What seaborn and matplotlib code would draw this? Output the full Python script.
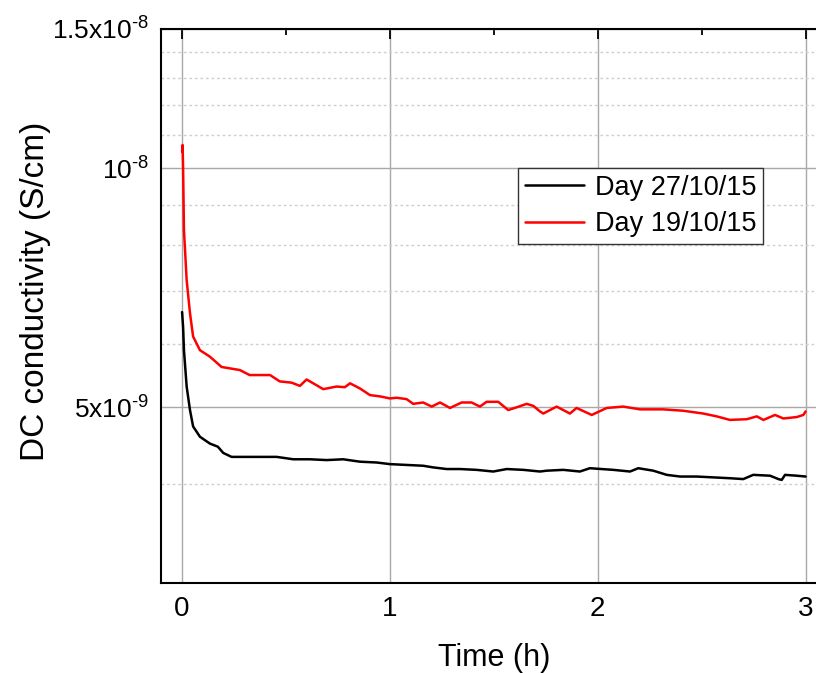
import numpy as np
import pandas as pd
import matplotlib
matplotlib.use("Agg")
import matplotlib.pyplot as plt
import matplotlib.ticker as mticker
import seaborn as sns

# ---- data (time in h, conductivity in 1e-9 S/cm) ----
t_black = [0.0, 0.005, 0.009, 0.022, 0.038, 0.053, 0.086, 0.134, 0.172, 0.198, 0.238,
           0.30, 0.374, 0.455, 0.535, 0.615, 0.695, 0.775, 0.856, 0.936, 1.0,
           1.08, 1.16, 1.208, 1.273, 1.337, 1.417, 1.497, 1.562, 1.642, 1.722,
           1.754, 1.834, 1.914, 1.962, 2.075, 2.155, 2.195, 2.267, 2.332, 2.396,
           2.476, 2.556, 2.636, 2.70, 2.748, 2.829, 2.869, 2.885, 2.901, 2.957, 3.0]
s_black = [6.59, 6.30, 5.90, 5.31, 4.96, 4.73, 4.59, 4.50, 4.46, 4.38, 4.33,
           4.33, 4.33, 4.33, 4.30, 4.30, 4.29, 4.30, 4.27, 4.26, 4.24,
           4.23, 4.22, 4.20, 4.18, 4.18, 4.17, 4.15, 4.18, 4.17, 4.15,
           4.16, 4.17, 4.15, 4.19, 4.17, 4.15, 4.19, 4.16, 4.11, 4.09,
           4.09, 4.08, 4.07, 4.06, 4.11, 4.10, 4.06, 4.05, 4.11, 4.10, 4.09]

t_red = [0.0, 0.0024, 0.005, 0.009, 0.022, 0.038, 0.053, 0.086, 0.134, 0.190, 0.278,
         0.325, 0.374, 0.423, 0.470, 0.527, 0.567, 0.599, 0.631, 0.679, 0.743,
         0.783, 0.808, 0.856, 0.904, 0.953, 1.0, 1.032, 1.080, 1.112, 1.160,
         1.201, 1.241, 1.289, 1.345, 1.393, 1.433, 1.465, 1.521, 1.569, 1.610,
         1.658, 1.690, 1.722, 1.738, 1.802, 1.866, 1.898, 1.971, 2.043, 2.123,
         2.203, 2.315, 2.411, 2.508, 2.572, 2.636, 2.717, 2.765, 2.797, 2.853,
         2.893, 2.957, 2.989, 3.0]
s_red = [10.5, 10.70, 9.95, 8.36, 7.23, 6.57, 6.14, 5.90, 5.79, 5.62, 5.57,
         5.49, 5.49, 5.49, 5.39, 5.37, 5.32, 5.42, 5.36, 5.27, 5.31,
         5.30, 5.36, 5.28, 5.18, 5.16, 5.13, 5.14, 5.12, 5.05, 5.07,
         5.01, 5.07, 4.99, 5.07, 5.07, 5.01, 5.08, 5.08, 4.96, 5.00,
         5.05, 5.02, 4.94, 4.91, 5.01, 4.91, 4.99, 4.89, 4.99, 5.01,
         4.97, 4.97, 4.95, 4.91, 4.87, 4.82, 4.83, 4.87, 4.82, 4.89,
         4.84, 4.86, 4.89, 4.94]

labels = ["Day 27/10/15", "Day 19/10/15"]
colors = ["#000000", "#ff0000"]

x_ticks = [0, 1, 2, 3]
y_major = [5e-9, 1e-8, 1.5e-8]
y_major_labels = [r"$\mathregular{5x10^{\text{-}9}}$", r"$\mathregular{10^{\text{-}8}}$",
                  r"$\mathregular{1.5x10^{\text{-}8}}$"]
y_minor = [3e-9, 4e-9, 6e-9, 7e-9, 8e-9, 9e-9, 1.1e-8, 1.2e-8, 1.3e-8, 1.4e-8]

df = pd.concat([
    pd.DataFrame({"t": t_black, "s": np.array(s_black) * 1e-9, "series": labels[0]}),
    pd.DataFrame({"t": t_red, "s": np.array(s_red) * 1e-9, "series": labels[1]}),
])

sns.set_style("white")
plt.rcParams["font.family"] = ["Liberation Sans", "DejaVu Sans"]
plt.rcParams["mathtext.fontset"] = "custom"
plt.rcParams["mathtext.rm"] = "Liberation Sans"
plt.rcParams["text.color"] = "black"
plt.rcParams["axes.labelcolor"] = "black"
plt.rcParams["xtick.color"] = "black"
plt.rcParams["ytick.color"] = "black"

fig = plt.figure(figsize=(8.16, 6.73), dpi=100)
L, R = 161.3, 826.4
T, B = 28.5, 583.4
ax = fig.add_axes([L / 816, (673 - B) / 673, (R - L) / 816, (B - T) / 673])

sns.lineplot(data=df, x="t", y="s", hue="series", hue_order=labels, palette=colors,
             estimator=None, sort=False, linewidth=1.8, ax=ax, zorder=3)

ax.set_yscale("log")
ax.set_xlim(-0.1, 3.1)
ax.set_ylim(3e-9, 1.5e-8)

ax.set_xticks(x_ticks)
ax.set_xticklabels([str(v) for v in x_ticks])
ax.xaxis.set_minor_locator(mticker.FixedLocator([0.5, 1.5, 2.5]))
ax.yaxis.set_major_locator(mticker.FixedLocator(y_major))
ax.yaxis.set_major_formatter(mticker.FixedFormatter(y_major_labels))
ax.yaxis.set_minor_locator(mticker.FixedLocator(y_minor))
ax.yaxis.set_minor_formatter(mticker.NullFormatter())

ax.tick_params(which="both", direction="in", top=True, right=True, colors="black",
               width=1.3)
ax.tick_params(which="major", length=7.5)
ax.tick_params(which="minor", length=4)
ax.tick_params(axis="x", which="major", pad=9, labelsize=20, labelcolor="black")
ax.tick_params(axis="y", which="major", pad=9, labelsize=19, labelcolor="black")

ax.grid(False)
ax.xaxis.grid(True, which="major", color="#a8a8a8", linewidth=1.0, linestyle="-")
ax.yaxis.grid(True, which="major", color="#a8a8a8", linewidth=1.0, linestyle="-")
ax.yaxis.grid(True, which="minor", color="#cfcfcf", linewidth=1.0, linestyle=(0, (2, 2)))
ax.set_axisbelow(True)

for sp in ax.spines.values():
    sp.set_visible(True)
    sp.set_color("black")
    sp.set_linewidth(1.5)

ax.set_xlabel("Time (h)", fontsize=22, color="black", labelpad=15)
ax.set_ylabel("DC conductivity (S/cm)", fontsize=24, color="black")
ax.yaxis.set_label_coords((36 - L) / (R - L), (B - 291.5) / (B - T))
ax.yaxis.label.set_va("center")

handles, _ = ax.get_legend_handles_labels()
leg = ax.legend(handles=handles, labels=labels, loc="upper left",
                bbox_to_anchor=((518 - L) / (R - L), 1 - (168 - T) / (B - T)),
                fontsize=19.5, frameon=True, fancybox=False, framealpha=1,
                edgecolor="#333333", handlelength=2.2, handletextpad=0.4,
                borderpad=0.25, labelspacing=0.38, borderaxespad=0)
leg.get_frame().set_linewidth(1.0)
for txt in leg.get_texts():
    txt.set_color("black")

fig.savefig("out.png", dpi=100)
